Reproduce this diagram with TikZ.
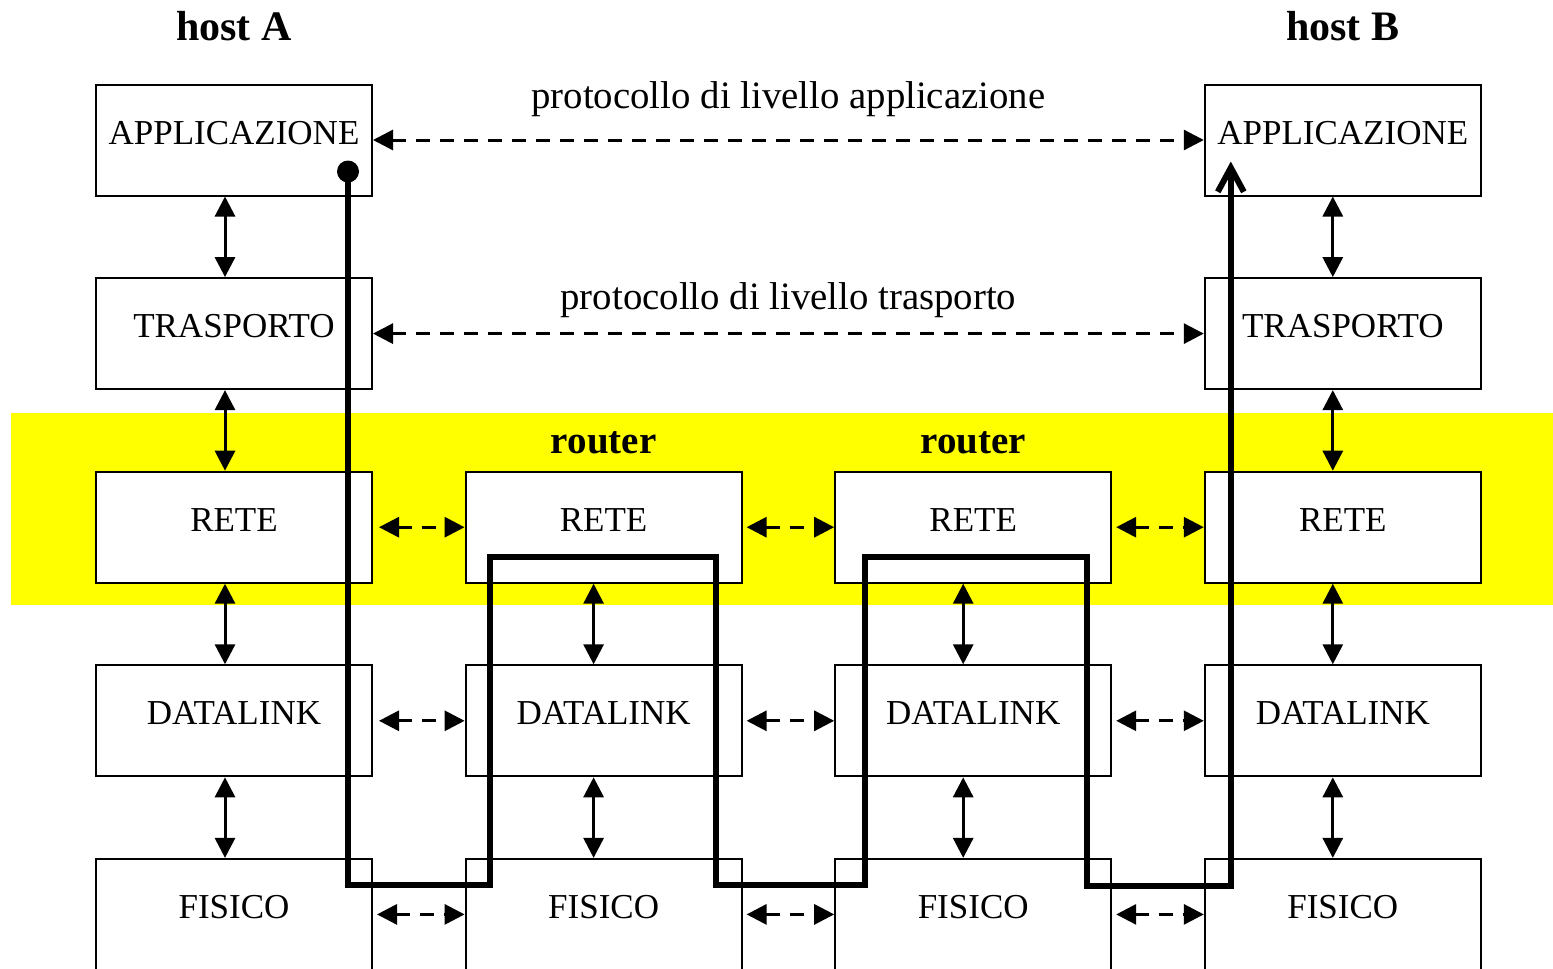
\documentclass[tikz,border=0pt]{standalone}
\usepackage{fontspec}
\setmainfont{Liberation Serif}
\usetikzlibrary{positioning,arrows.meta,calc}
\definecolor{netband}{RGB}{255,255,0}

\begin{document}
\begin{tikzpicture}[
    x=0.5pt, y=-0.5pt,
    node distance=40.3pt and 45.8pt,
    box/.style={draw, line width=1pt, fill=white, inner sep=0pt,
                minimum width=138pt, minimum height=55.5pt,
                font=\fontsize{17.5}{21}\selectfont,
                text height=11pt, text depth=7pt},
    host/.style={font=\fontsize{21}{25}\selectfont\bfseries, inner sep=0pt},
    rtr/.style={font=\fontsize{19.5}{23}\selectfont\bfseries, inner sep=0pt},
    lbl/.style={font=\fontsize{19.4}{23}\selectfont, inner sep=0pt},
    peer/.style={{Triangle[length=10pt,width=10pt]}-{Triangle[length=10pt,width=10pt]},
                 line width=1.5pt, dash pattern=on 7pt off 5pt},
    updown/.style={{Triangle[length=10pt,width=10pt]}-{Triangle[length=10pt,width=10pt]},
                   line width=1.5pt},
    pkt/.style={-{Straight Barb[length=12pt,width=13pt]}, line width=3pt, line cap=round},
]
\useasboundingbox (0,0) rectangle (1553,969);
% ---- network layer band ----
\fill[netband] (11,413) rectangle (1553,605);

% ---- host A ----
\node[box]                (appA) at (234,140) {APPLICAZIONE};
\node[box, below=of appA] (traA) {TRASPORTO};
\node[box, below=of traA] (retA) {RETE};
\node[box, below=of retA] (dlA)  {DATALINK};
\node[box, below=of dlA]  (fisA) {FISICO};

% ---- routers ----
\node[box, right=of retA] (ret1) {RETE};
\node[box, below=of ret1] (dl1)  {DATALINK};
\node[box, below=of dl1]  (fis1) {FISICO};
\node[box, right=of ret1] (ret2) {RETE};
\node[box, below=of ret2] (dl2)  {DATALINK};
\node[box, below=of dl2]  (fis2) {FISICO};

% ---- host B ----
\node[box, right=of ret2] (retB) {RETE};
\node[box, above=of retB] (traB) {TRASPORTO};
\node[box, above=of traB] (appB) {APPLICAZIONE};
\node[box, below=of retB] (dlB)  {DATALINK};
\node[box, below=of dlB]  (fisB) {FISICO};

\node[host, above=21pt of appA] (hA) {host A};
\node[host, above=21pt of appB] (hB) {host B};
\node[rtr, above=8pt of ret1]   (r1) {router};
\node[rtr, above=8pt of ret2]   (r2) {router};

% ---- peer protocols ----
\draw[peer] (appA) -- node[lbl, above=11pt] {protocollo di livello applicazione} (appB);
\draw[peer] (traA) -- node[lbl, above=7pt] {protocollo di livello trasporto} (traB);
\draw[peer, shorten <=3pt] (retA) -- (ret1);
\draw[peer, shorten <=2pt] (ret1) -- (ret2);
\draw[peer, shorten <=2pt] (ret2) -- (retB);
\draw[peer, shorten <=3pt] (dlA) -- (dl1);
\draw[peer, shorten <=2pt] (dl1) -- (dl2);
\draw[peer, shorten <=2pt] (dl2) -- (dlB);
\draw[peer, shorten <=2pt] (fisA) -- (fis1);
\draw[peer, shorten <=2pt] (fis1) -- (fis2);
\draw[peer, shorten <=2pt] (fis2) -- (fisB);

% ---- layer interfaces ----
\draw[updown] ([xshift=-4.5pt]appA.south) -- ([xshift=-4.5pt]traA.north);
\draw[updown] ([xshift=-4.5pt]traA.south) -- ([xshift=-4.5pt]retA.north);
\draw[updown] ([xshift=-4.5pt]retA.south) -- ([xshift=-4.5pt]dlA.north);
\draw[updown] ([xshift=-4.5pt]dlA.south)  -- ([xshift=-4.5pt]fisA.north);
\draw[updown] ([xshift=-5pt]ret1.south) -- ([xshift=-5pt]dl1.north);
\draw[updown] ([xshift=-5pt]dl1.south)  -- ([xshift=-5pt]fis1.north);
\draw[updown] ([xshift=-5pt]ret2.south) -- ([xshift=-5pt]dl2.north);
\draw[updown] ([xshift=-5pt]dl2.south)  -- ([xshift=-5pt]fis2.north);
\draw[updown] ([xshift=-5pt]appB.south) -- ([xshift=-5pt]traB.north);
\draw[updown] ([xshift=-5pt]traB.south) -- ([xshift=-5pt]retB.north);
\draw[updown] ([xshift=-5pt]retB.south) -- ([xshift=-5pt]dlB.north);
\draw[updown] ([xshift=-5pt]dlB.south)  -- ([xshift=-5pt]fisB.north);

% ---- data path ----
\coordinate (a0) at ($(appA.south east)+(-12.5pt,12.5pt)$);
\coordinate (k1) at ($(ret1.south west)+(12.5pt,13.5pt)$);
\coordinate (k2) at ($(fis1.north east)+(-13.5pt,-13.5pt)$);
\coordinate (k3) at ($(ret2.south west)+(15.5pt,13.5pt)$);
\coordinate (k4) at ($(fis2.north east)+(-12.5pt,-14pt)$);
\coordinate (b0) at ($(appB.south west)+(13.5pt,17.5pt)$);
\fill (a0) circle (5.5pt);
\draw[pkt] (a0) -- (a0 |- k2) -| (k1) -| (k2) -| (k3) -| (k4) -| (b0);
\end{tikzpicture}
\end{document}
